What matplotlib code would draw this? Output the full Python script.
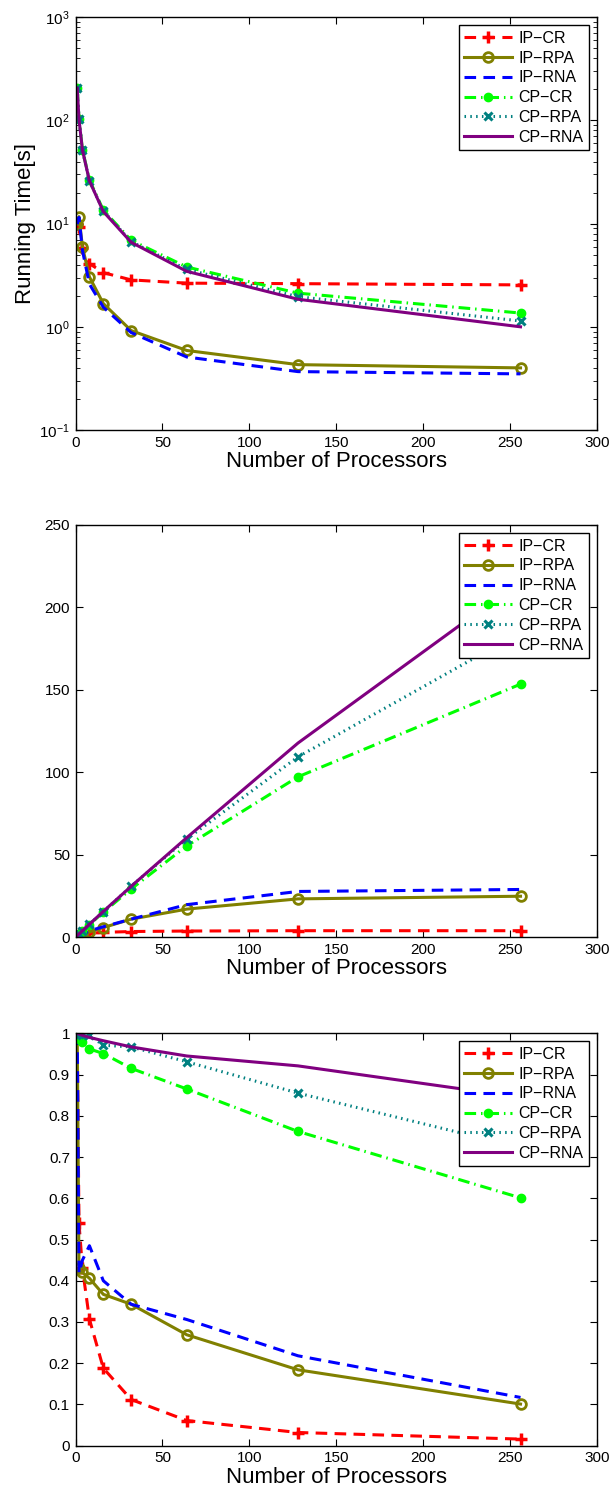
import math
import matplotlib
matplotlib.use("Agg")
import matplotlib.pyplot as plt
from matplotlib.ticker import FixedLocator, FuncFormatter, LogLocator, NullFormatter

plt.rcParams['font.family'] = ['Liberation Sans', 'DejaVu Sans']
plt.rcParams['mathtext.fontset'] = 'custom'
plt.rcParams['mathtext.rm'] = 'Liberation Sans'
plt.rcParams['mathtext.it'] = 'Liberation Sans'

# ---- data ----
procs = [1, 2, 4, 8, 16, 32, 64, 128, 256]
labels = ['IP\u2212CR', 'IP\u2212RPA', 'IP\u2212RNA', 'CP\u2212CR', 'CP\u2212RPA', 'CP\u2212RNA']

# running time [s]
ip_cr_time = [9.9, 9.2, 5.8, 4.1, 3.35, 2.85, 2.65, 2.62, 2.55]
ip_rpa_time = [9.9, 11.7, 5.95, 3.05, 1.68, 0.92, 0.59, 0.43, 0.40]
ip_rna_time = [9.9, 11.5, 5.5, 2.6, 1.55, 0.88, 0.51, 0.368, 0.35]
cp_cr_time = [205, 104, 52, 26.5, 13.5, 6.9, 3.8, 2.12, 1.36]
cp_rpa_time = [205, 103, 51.5, 26, 13.3, 6.7, 3.6, 1.96, 1.14]
cp_rna_time = [205, 103, 51.5, 26, 13.1, 6.6, 3.45, 1.85, 1.0]

# speedup
ip_cr_speedup = [1, 1.1, 1.7, 2.4, 3.0, 3.5, 3.8, 4.0, 4.0]
ip_rpa_speedup = [1, 0.86, 1.7, 3.25, 5.9, 11.0, 17.1, 23.3, 24.9]
ip_rna_speedup = [1, 0.84, 1.8, 3.9, 6.4, 11.0, 19.8, 27.8, 29.0]
cp_cr_speedup = [1, 1.97, 3.92, 7.7, 15.2, 29.3, 55.4, 97.3, 153.5]
cp_rpa_speedup = [1, 2.0, 3.98, 7.96, 15.5, 31.0, 59.6, 109.4, 185]
cp_rna_speedup = [1, 2.0, 3.98, 7.92, 15.7, 30.9, 60.4, 117.8, 216]

# efficiency
ip_cr_eff = [1, 0.54, 0.43, 0.307, 0.188, 0.112, 0.061, 0.032, 0.016]
ip_rpa_eff = [1, 0.43, 0.42, 0.406, 0.367, 0.343, 0.269, 0.184, 0.101]
ip_rna_eff = [1, 0.418, 0.45, 0.485, 0.40, 0.343, 0.306, 0.218, 0.117]
cp_cr_eff = [1, 0.985, 0.98, 0.962, 0.951, 0.915, 0.865, 0.762, 0.601]
cp_rpa_eff = [1, 0.998, 0.995, 0.995, 0.971, 0.967, 0.931, 0.855, 0.723]
cp_rna_eff = [1, 0.998, 0.995, 0.99, 0.982, 0.967, 0.945, 0.921, 0.845]

LW = 2.2
styles = [
    dict(color='#ff0000', dashes=(3.8, 2.4), marker='+', markersize=8, markeredgewidth=2.5),
    dict(color='#808000', linestyle='-', marker='o', markersize=7, markeredgewidth=2.0,
         markerfacecolor='none'),
    dict(color='#0000ff', dashes=(3.8, 2.4)),
    dict(color='#00ff00', dashes=(3.8, 1.6, 0.5, 1.6), marker='o', markersize=6,
         markerfacecolor='#00ff00', markeredgecolor='#00ff00'),
    dict(color='#008080', dashes=(0.5, 1.4), marker='x', markersize=5.5, markeredgewidth=2.2),
    dict(color='#800080', linestyle='-'),
]


def pow10_label(v, pos):
    e = int(round(math.log10(v)))
    s = ('\u2212%d' % -e) if e < 0 else '%d' % e
    return r'$\mathregular{10^{%s}}$' % s


fig = plt.figure(figsize=(6.13, 14.95), dpi=100)
left, width = 75.5 / 613, (597 - 75.5) / 613
H = 1495.0
rects = [
    (left, 1 - 430 / H, width, (430 - 17.3) / H),
    (left, 1 - 937.3 / H, width, (937.3 - 525) / H),
    (left, 1 - 1445.7 / H, width, (1445.7 - 1033.3) / H),
]

panels = [
    [ip_cr_time, ip_rpa_time, ip_rna_time, cp_cr_time, cp_rpa_time, cp_rna_time],
    [ip_cr_speedup, ip_rpa_speedup, ip_rna_speedup, cp_cr_speedup, cp_rpa_speedup, cp_rna_speedup],
    [ip_cr_eff, ip_rpa_eff, ip_rna_eff, cp_cr_eff, cp_rpa_eff, cp_rna_eff],
]

for idx, (rect, series) in enumerate(zip(rects, panels)):
    ax = fig.add_axes(rect)
    for lab, ys, st in zip(labels, series, styles):
        ax.plot(procs, ys, label=lab, linewidth=LW, **st)

    ax.set_xlim(0, 300)
    ax.xaxis.set_major_locator(FixedLocator([0, 50, 100, 150, 200, 250, 300]))
    if idx == 0:
        ax.set_yscale('log')
        ax.set_ylim(0.1, 1000)
        ax.yaxis.set_major_locator(FixedLocator([0.1, 1, 10, 100, 1000]))
        ax.yaxis.set_major_formatter(FuncFormatter(pow10_label))
        ax.yaxis.set_minor_locator(LogLocator(base=10, subs=range(2, 10), numticks=20))
        ax.yaxis.set_minor_formatter(NullFormatter())
        ax.set_ylabel('Running Time[s]', fontsize=16, labelpad=2)
    elif idx == 1:
        ax.set_ylim(0, 250)
        ax.yaxis.set_major_locator(FixedLocator([0, 50, 100, 150, 200, 250]))
    else:
        ax.set_ylim(0, 1)
        ax.yaxis.set_major_locator(FixedLocator([i / 10 for i in range(11)]))
        ax.yaxis.set_major_formatter(FuncFormatter(lambda v, p: '%g' % round(v, 1)))

    ax.set_xlabel('Number of Processors', fontsize=16, labelpad=1)
    ax.tick_params(which='major', direction='in', length=5, width=0.8, top=True, right=True,
                   labelsize=11, pad=4)
    ax.tick_params(which='minor', direction='in', length=3, width=0.6, top=False, right=True)
    for sp in ax.spines.values():
        sp.set_linewidth(1.0)

    leg = ax.legend(loc='upper right', fontsize=11.5, frameon=True, fancybox=False,
                    edgecolor='black', framealpha=1, numpoints=1, handlelength=3.0,
                    handletextpad=0.4, labelspacing=0.3, borderpad=0.35, borderaxespad=0.5)
    leg.get_frame().set_linewidth(1.0)

fig.savefig('out.png', dpi=100)
